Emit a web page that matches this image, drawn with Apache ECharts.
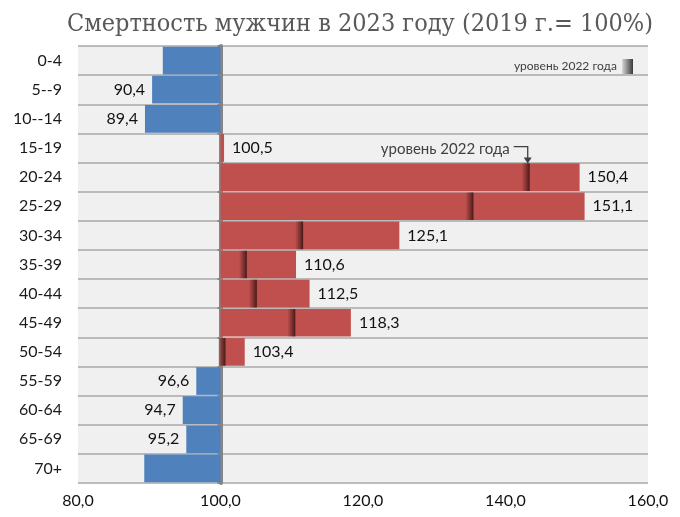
<!DOCTYPE html>
<html><head><meta charset="utf-8">
<script src="https://cdn.jsdelivr.net/npm/echarts@6/dist/echarts.min.js"></script>
<style>html,body{margin:0;padding:0;background:#fff}#c{width:680px;height:517px}</style>
</head><body><div id="c"></div>
<script>
const titleText = 'Смертность мужчин в 2023 году (2019 г.= 100%)';
const categories = ['0-4','5--9','10--14','15-19','20-24','25-29','30-34','35-39','40-44','45-49','50-54','55-59','60-64','65-69','70+'];
const values2023 = [91.9, 90.4, 89.4, 100.5, 150.4, 151.1, 125.1, 110.6, 112.5, 118.3, 103.4, 96.6, 94.7, 95.2, 89.3];
const labelShown = [false, true, true, true, true, true, true, true, true, true, true, true, true, true, false];
const level2022 = [null, null, null, null, 143.4, 135.5, 111.6, 103.7, 105.1, 110.5, 100.7, null, null, null, null];
const xTicks = [80, 100, 120, 140, 160];
const baseLevel = 100;
const legendName = 'уровень 2022 года';

const fmt = v => v.toFixed(1).replace('.', ',');
const blue = '#4F81BD', red = '#C0504D';

const blueData = values2023.map((v, i) => v < baseLevel ? {
  value: v - baseLevel,
  label: {show: labelShown[i], formatter: () => fmt(v)}
} : '-');
const redData = values2023.map((v, i) => v >= baseLevel ? {
  value: v - baseLevel,
  label: {show: labelShown[i], formatter: () => fmt(v)}
} : '-');
const markerData = level2022.map((v, i) => v == null ? null : [v - baseLevel, i]).filter(d => d);

const chart = echarts.init(document.getElementById('c'));
const font = 'Lato, "Noto Sans", sans-serif';
const markerGrad = new echarts.graphic.LinearGradient(0, 0, 1, 0, [
  {offset: 0, color: 'rgba(40,10,10,0)'},
  {offset: 0.6, color: 'rgba(40,10,10,0.45)'},
  {offset: 1, color: 'rgba(30,5,5,0.75)'}
]);
const legendGrad = new echarts.graphic.LinearGradient(0, 0, 1, 0, [
  {offset: 0, color: '#d8d8d8'},
  {offset: 1, color: '#3a3a3a'}
]);

chart.setOption({
  animation: false,
  title: {
    text: titleText, left: 355, textAlign: 'center', top: 7,
    textStyle: {fontFamily: '"DejaVu Serif Condensed", "DejaVu Serif", serif', fontWeight: 'normal', fontSize: 25, color: '#595959'}
  },
  legend: {
    data: [{name: legendName, icon: 'rect', itemStyle: {color: legendGrad}}],
    right: 42, top: 54, align: 'right', itemWidth: 11, itemHeight: 15, itemGap: 6,
    textStyle: {fontFamily: font, fontSize: 12, color: '#404040'},
    selectedMode: false
  },
  grid: {left: 78, right: 32, top: 46, bottom: 34, show: true, backgroundColor: '#f0f0f0', borderWidth: 0},
  xAxis: {
    type: 'value', min: xTicks[0] - baseLevel, max: xTicks[xTicks.length - 1] - baseLevel, interval: 20,
    axisLine: {show: false}, axisTick: {show: false}, splitLine: {show: false},
    axisLabel: {formatter: v => fmt(v + baseLevel), fontFamily: font, fontSize: 16, color: '#111', margin: 10}
  },
  yAxis: [{
    type: 'category', data: categories, inverse: true,
    axisLine: {show: false, onZero: false}, axisTick: {show: false},
    splitLine: {show: true, lineStyle: {color: '#a8a8a8', width: 1.5}},
    axisLabel: {fontFamily: font, fontSize: 16, color: '#1a1a1a', margin: 16}
  }, {
    type: 'category', data: categories, inverse: true, position: 'left',
    axisLine: {show: true, onZero: true, lineStyle: {color: '#858585', width: 4}},
    axisTick: {show: true, length: 3, lineStyle: {color: '#858585', width: 2}},
    axisLabel: {show: false}, splitLine: {show: false}
  }],
  series: [{
    name: 'blue', type: 'bar', data: blueData, barGap: '-100%', barCategoryGap: '5%',
    itemStyle: {color: blue}, z: 2,
    label: {position: 'left', distance: 7, fontFamily: font, fontSize: 16, color: '#111'}
  }, {
    name: 'red', type: 'bar', data: redData, barCategoryGap: '5%',
    itemStyle: {color: red}, z: 2,
    label: {position: 'right', distance: 8, fontFamily: font, fontSize: 16, color: '#111'}
  }, {
    name: legendName, type: 'custom', data: markerData, z: 3,
    itemStyle: {color: legendGrad},
    encode: {x: 0, y: 1},
    renderItem: (params, api) => {
      const p = api.coord([api.value(0), api.value(1)]);
      const h = api.size([0, 1])[1] * 0.95;
      return {type: 'rect', shape: {x: p[0] - 8, y: p[1] - h / 2, width: 8, height: h},
        style: {fill: markerGrad}};
    }
  }]
});

// annotation pointing at the 20-24 marker
const ai = level2022.findIndex(v => v != null);
const pt = chart.convertToPixel({gridIndex: 0}, [level2022[ai] - baseLevel, ai]);
const bandH = chart.convertToPixel({gridIndex: 0}, [0, 1])[1] - chart.convertToPixel({gridIndex: 0}, [0, 0])[1];
const topY = pt[1] - bandH / 2;
const ax = pt[0] - 2;
chart.setOption({
  graphic: [
    {type: 'text', x: ax - 18, y: topY - 13, style: {text: legendName, fontFamily: font, fontSize: 15, fill: '#404040', align: 'right', verticalAlign: 'middle'}},
    {type: 'polyline', shape: {points: [[ax - 14, topY - 16], [ax, topY - 16], [ax, topY - 2]]}, style: {stroke: '#404040', lineWidth: 1.3, fill: null}},
    {type: 'polygon', shape: {points: [[ax - 4, topY - 5], [ax + 4, topY - 5], [ax, topY + 1]]}, style: {fill: '#404040'}}
  ]
});
</script></body></html>
